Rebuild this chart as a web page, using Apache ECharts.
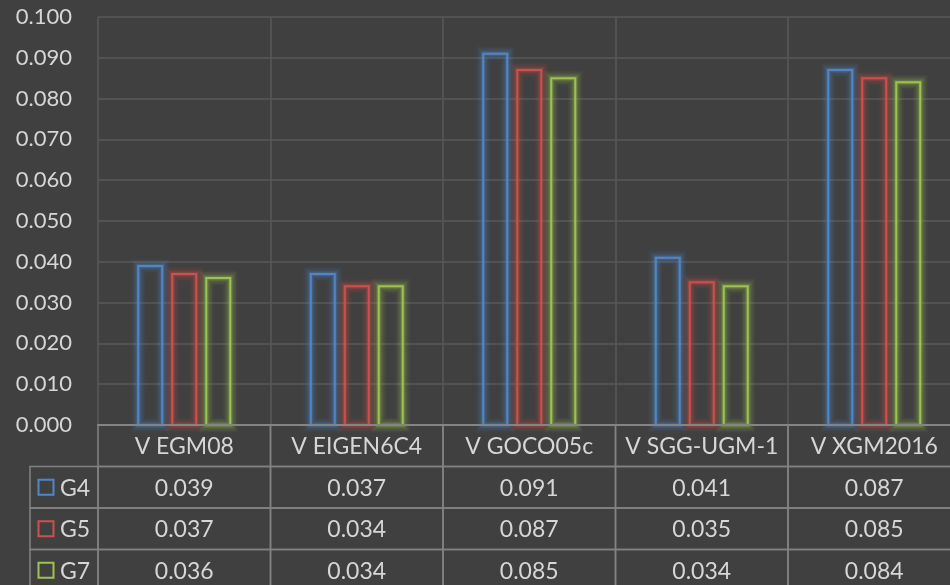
<!DOCTYPE html>
<html>
<head>
<meta charset="utf-8">
<script src="https://cdn.jsdelivr.net/npm/echarts@6/dist/echarts.min.js"></script>
<style>
  html, body { margin: 0; padding: 0; background: #404040; }
  #chart { width: 950px; height: 585px; }
</style>
</head>
<body>
<div id="chart"></div>
<script>
// Models compared along the x axis
const categories = ['V EGM08', 'V EIGEN6C4', 'V GOCO05c', 'V SGG-UGM-1', 'V XGM2016'];
// One series per group
const seriesNames = ['G4', 'G5', 'G7'];
const g4 = [0.039, 0.037, 0.091, 0.041, 0.087];
const g5 = [0.037, 0.034, 0.087, 0.035, 0.085];
const g7 = [0.036, 0.034, 0.085, 0.034, 0.084];
const seriesValues = [g4, g5, g7];
const seriesColors = ['#5186C6', '#CC514D', '#9DC24F'];

const FONT = 'Lato, "Open Sans", sans-serif';
const TEXT = '#d6d6d6';
const TABLE_LINE = '#828282';
const LEGEND_COL_W = 68;
const BAR_W = 24;      // bar rectangle width, px
const BAR_STEP = 34;   // distance between neighbouring bar centres, px
// Soft halo around each hollow bar: wide faint strokes under the crisp outline
const GLOW_LAYERS = [
  { width: 15, opacity: 0.05 },
  { width: 12, opacity: 0.07 },
  { width: 9, opacity: 0.10 },
  { width: 6, opacity: 0.15 },
  { width: 4, opacity: 0.20 }
];

// Cells of the data table under the plot: header row, then one row per series
const cells = [];
categories.forEach((c, i) => cells.push({ col: i, row: 0, text: c, kind: 'cell' }));
seriesValues.forEach((vals, s) => {
  cells.push({ col: 0, row: s + 1, text: seriesNames[s], kind: 'legend', color: seriesColors[s] });
  vals.forEach((v, i) => cells.push({ col: i, row: s + 1, text: v.toFixed(3), kind: 'cell' }));
});

const chart = echarts.init(document.getElementById('chart'));

const barSeries = seriesValues.map((vals, s) => ({
  name: seriesNames[s],
  type: 'custom',
  xAxisIndex: 0,
  yAxisIndex: 0,
  clip: false,
  silent: true,
  data: vals.map((v, i) => [i, v]),
  renderItem: function (params, api) {
    const top = api.coord([api.value(0), api.value(1)]);
    const base = api.coord([api.value(0), 0]);
    const cx = top[0] + (s - 1) * BAR_STEP;
    const rect = { x: cx - BAR_W / 2, y: top[1], width: BAR_W, height: base[1] - top[1] };
    const color = seriesColors[s];
    const children = GLOW_LAYERS.map(g => ({
      type: 'rect', shape: rect,
      style: { fill: 'none', stroke: color, lineWidth: g.width, opacity: g.opacity }
    }));
    children.push({
      type: 'rect', shape: rect,
      style: { fill: 'none', stroke: color, lineWidth: 2 }
    });
    return { type: 'group', children };
  },
  z: 3
}));

const tableSeries = {
  type: 'custom',
  xAxisIndex: 1,
  yAxisIndex: 1,
  clip: false,
  silent: true,
  data: cells.map(c => [c.col, c.row]),
  renderItem: function (params, api) {
    const cell = cells[params.dataIndex];
    const center = api.coord([api.value(0), api.value(1) + 0.5]);
    const bw = api.size([1, 1])[0];
    const bh = api.size([0, 1])[1];
    const top = center[1] - bh / 2;
    if (cell.kind === 'legend') {
      const left = center[0] - bw / 2 - LEGEND_COL_W;
      return {
        type: 'group',
        children: [
          { type: 'rect', shape: { x: left, y: top, width: LEGEND_COL_W, height: bh },
            style: { fill: 'none', stroke: TABLE_LINE, lineWidth: 1.5 } },
          { type: 'rect', shape: { x: left + 8.5, y: center[1] - 7.5, width: 15, height: 15 },
            style: { fill: 'none', stroke: cell.color, lineWidth: 2 } },
          { type: 'text', style: { text: cell.text, x: left + 30, y: center[1] + 1,
            align: 'left', verticalAlign: 'middle', fill: TEXT, font: '23px ' + FONT } }
        ]
      };
    }
    return {
      type: 'group',
      children: [
        { type: 'rect', shape: { x: center[0] - bw / 2, y: top, width: bw, height: bh },
          style: { fill: 'none', stroke: TABLE_LINE, lineWidth: 1.5 } },
        { type: 'text', style: { text: cell.text, x: center[0], y: center[1] + 1,
          align: 'center', verticalAlign: 'middle', fill: TEXT, font: '23px ' + FONT } }
      ]
    };
  },
  z: 5
};

chart.setOption({
  backgroundColor: '#404040',
  animation: false,
  grid: [
    { left: 98, width: 862.5, top: 17, height: 408, outerBoundsMode: 'none', containLabel: false },
    { left: 98, width: 862.5, top: 425, height: 166, outerBoundsMode: 'none', containLabel: false }
  ],
  xAxis: [
    {
      type: 'category',
      gridIndex: 0,
      data: categories,
      axisLine: { show: true, lineStyle: { color: '#8a8a8a', width: 2 } },
      axisTick: { show: false },
      axisLabel: { show: false },
      splitLine: { show: true, lineStyle: { color: '#595959', width: 1.5 } },
      z: 4
    },
    {
      type: 'category',
      gridIndex: 1,
      data: categories,
      show: false
    }
  ],
  yAxis: [
    {
      type: 'value',
      gridIndex: 0,
      min: 0,
      max: 0.1,
      interval: 0.01,
      axisLine: { show: false },
      axisTick: { show: false },
      axisLabel: {
        color: TEXT,
        fontFamily: FONT,
        fontSize: 22,
        margin: 26,
        formatter: v => v.toFixed(3)
      },
      splitLine: { lineStyle: { color: '#595959', width: 1.5 } }
    },
    {
      // table rows: 0 = header, 1..3 = series; each row spans [r, r + 1]
      type: 'value',
      gridIndex: 1,
      inverse: true,
      min: 0,
      max: 4,
      show: false
    }
  ],
  series: [...barSeries, tableSeries]
});
</script>
</body>
</html>
